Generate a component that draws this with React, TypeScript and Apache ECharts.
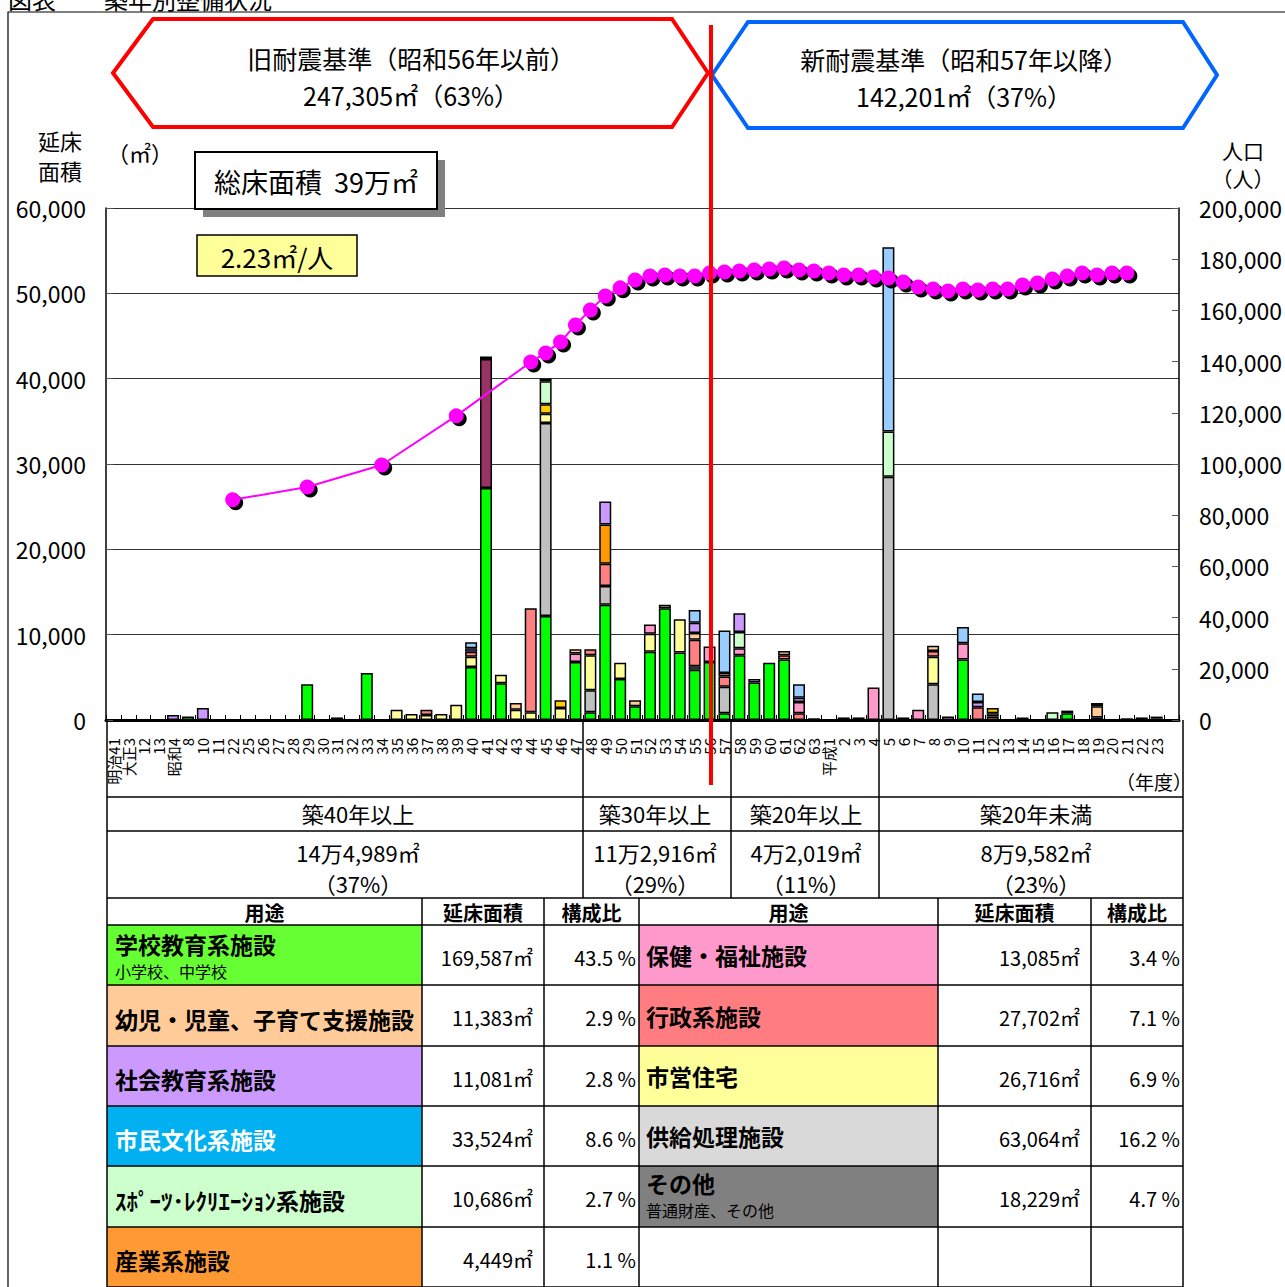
import React, { useEffect, useRef } from 'react';
import * as echarts from 'echarts';

// ---------- data ----------
const categories = [
  '明治41', '大正3', '12', '13', '昭和4', '8', '10', '11', '22', '25',
  '26', '27', '28', '29', '30', '31', '32', '33', '34', '35',
  '36', '37', '38', '39', '40', '41', '42', '43', '44', '45',
  '46', '47', '48', '49', '50', '51', '52', '53', '54', '55',
  '56', '57', '58', '59', '60', '61', '62', '63', '平成1', '2',
  '3', '4', '5', '6', '7', '8', '9', '10', '11', '12',
  '13', '14', '15', '16', '17', '18', '19', '20', '21', '22',
  '23', '',
];

// floor area (m2) per year, by use
const school = [
  0, 0, 0, 0, 0, 400, 0, 0, 0, 0,
  0, 0, 0, 4200, 0, 0, 0, 5500, 0, 0,
  0, 0, 0, 0, 6200, 27200, 4300, 0, 0, 12200,
  0, 6800, 900, 13500, 4800, 1600, 8000, 13100, 7900, 5900,
  6800, 800, 7600, 4400, 6700, 7100, 0, 0, 0, 0,
  0, 0, 0, 0, 0, 0, 0, 7100, 0, 0,
  0, 0, 0, 0, 800, 0, 0, 0, 0, 0,
  0, 0,
];
const supply = [
  0, 0, 0, 0, 0, 0, 0, 0, 0, 0,
  0, 0, 0, 0, 0, 0, 0, 0, 0, 0,
  0, 0, 0, 0, 0, 0, 0, 0, 0, 22600,
  0, 0, 2600, 2200, 0, 0, 0, 0, 0, 400,
  0, 3100, 0, 0, 0, 0, 0, 200, 0, 0,
  0, 0, 28500, 0, 0, 4200, 0, 0, 0, 0,
  0, 0, 0, 0, 0, 0, 0, 0, 0, 0,
  0, 0,
];
const housing = [
  0, 0, 0, 0, 0, 0, 0, 0, 0, 0,
  0, 0, 0, 0, 0, 300, 0, 0, 0, 1200,
  700, 600, 700, 1800, 1200, 0, 1000, 1200, 900, 1100,
  1400, 0, 4100, 0, 1900, 0, 2100, 0, 3900, 0,
  0, 0, 0, 0, 0, 0, 0, 0, 0, 0,
  0, 0, 0, 0, 0, 3200, 0, 0, 0, 0,
  0, 0, 0, 0, 0, 0, 0, 0, 0, 0,
  0, 0,
];
const admin = [
  0, 0, 0, 0, 0, 0, 0, 0, 0, 0,
  0, 0, 0, 0, 0, 0, 0, 0, 0, 0,
  0, 600, 0, 0, 600, 0, 0, 0, 12200, 0,
  0, 0, 700, 2600, 0, 0, 0, 0, 0, 3100,
  0, 1200, 0, 0, 0, 500, 800, 0, 0, 0,
  0, 0, 0, 300, 0, 700, 0, 0, 1500, 400,
  0, 0, 0, 0, 0, 0, 300, 0, 0, 300,
  200, 0,
];
const health = [
  0, 0, 0, 0, 0, 0, 0, 0, 0, 0,
  0, 0, 0, 0, 0, 0, 0, 0, 0, 0,
  0, 0, 0, 0, 0, 0, 0, 0, 0, 0,
  0, 1000, 0, 0, 0, 0, 1100, 0, 0, 0,
  1800, 0, 800, 0, 0, 0, 1300, 0, 0, 0,
  0, 3800, 0, 0, 1200, 0, 0, 1900, 0, 0,
  0, 0, 0, 0, 0, 0, 0, 0, 0, 0,
  0, 0,
];
const childcare = [
  0, 0, 0, 0, 0, 0, 0, 0, 0, 0,
  0, 0, 0, 0, 0, 0, 0, 0, 0, 0,
  0, 0, 0, 0, 0, 0, 0, 800, 0, 0,
  0, 500, 0, 0, 0, 700, 0, 400, 0, 800,
  0, 400, 0, 0, 0, 500, 0, 0, 0, 300,
  0, 0, 0, 0, 0, 600, 0, 0, 0, 400,
  0, 0, 0, 0, 0, 0, 1300, 0, 0, 0,
  0, 0,
];
const industry = [
  0, 0, 0, 0, 0, 0, 0, 0, 0, 0,
  0, 0, 0, 0, 0, 0, 0, 0, 0, 0,
  0, 0, 0, 0, 0, 0, 0, 0, 0, 0,
  0, 0, 0, 4600, 0, 0, 0, 0, 0, 0,
  0, 0, 0, 0, 0, 0, 0, 0, 0, 0,
  0, 0, 0, 0, 0, 0, 0, 0, 0, 0,
  0, 0, 0, 0, 0, 0, 0, 0, 0, 0,
  0, 0,
];
const otherFacility = [
  0, 0, 0, 0, 0, 0, 0, 0, 0, 0,
  0, 0, 0, 0, 0, 0, 0, 0, 0, 0,
  0, 0, 0, 0, 0, 0, 0, 0, 0, 1100,
  900, 0, 0, 0, 0, 0, 0, 0, 0, 0,
  0, 0, 0, 0, 0, 0, 0, 0, 0, 0,
  0, 0, 0, 0, 0, 0, 0, 0, 0, 600,
  0, 0, 0, 0, 0, 0, 0, 0, 0, 0,
  0, 0,
];
const sports = [
  0, 0, 0, 0, 0, 0, 0, 0, 0, 0,
  0, 0, 0, 0, 0, 0, 0, 0, 0, 0,
  0, 0, 0, 0, 0, 0, 0, 0, 0, 2700,
  0, 0, 0, 0, 0, 0, 0, 0, 0, 0,
  0, 0, 1900, 0, 0, 0, 0, 0, 0, 0,
  0, 0, 5300, 0, 0, 0, 0, 0, 0, 0,
  0, 0, 0, 900, 0, 0, 0, 0, 0, 0,
  0, 0,
];
const socialEdu = [
  0, 0, 0, 0, 600, 0, 1400, 0, 0, 0,
  0, 0, 0, 0, 0, 0, 0, 0, 0, 0,
  0, 0, 0, 0, 400, 0, 0, 0, 0, 0,
  0, 0, 0, 2700, 0, 0, 0, 0, 0, 1200,
  0, 0, 2200, 0, 0, 0, 500, 0, 0, 0,
  0, 0, 0, 0, 0, 0, 400, 0, 600, 0,
  0, 0, 0, 0, 0, 0, 0, 0, 200, 0,
  0, 0,
];
const culture = [
  0, 0, 0, 0, 0, 0, 0, 0, 0, 0,
  0, 0, 0, 0, 0, 0, 0, 0, 0, 0,
  0, 0, 0, 0, 700, 0, 0, 0, 0, 0,
  0, 0, 0, 0, 0, 0, 0, 0, 0, 1500,
  0, 5000, 0, 400, 0, 0, 1600, 0, 0, 0,
  0, 0, 21600, 0, 0, 0, 0, 1900, 1000, 0,
  0, 0, 0, 0, 0, 0, 0, 0, 0, 0,
  0, 0,
];
const generalProperty = [
  0, 0, 0, 0, 0, 0, 0, 0, 0, 0,
  0, 0, 0, 0, 0, 0, 0, 0, 0, 0,
  0, 0, 0, 0, 0, 15100, 0, 0, 0, 0,
  0, 0, 0, 0, 0, 0, 0, 0, 0, 0,
  0, 0, 0, 0, 0, 0, 0, 0, 0, 0,
  0, 0, 0, 0, 0, 0, 0, 0, 0, 0,
  0, 0, 0, 0, 0, 0, 0, 0, 0, 0,
  0, 0,
];
const others = [
  0, 0, 0, 0, 0, 0, 0, 0, 0, 0,
  0, 0, 0, 0, 0, 0, 0, 0, 0, 0,
  0, 0, 0, 0, 0, 300, 0, 0, 0, 300,
  0, 0, 0, 0, 0, 0, 0, 0, 0, 0,
  0, 0, 0, 0, 0, 0, 0, 0, 0, 0,
  300, 0, 0, 0, 0, 0, 0, 0, 0, 0,
  0, 300, 0, 0, 300, 0, 400, 0, 0, 0,
  200, 0,
];

// population (persons)
const population = [
  null, null, null, null, null, null, null, null, 86000, null,
  null, null, null, 91000, null, null, null, null, 99600, null,
  null, null, null, 118800, null, null, null, null, 139800, 143400,
  147700, 154300, 160200, 165600, 168800, 171900, 173400, 173800, 173400, 173400,
  174600, 175000, 175400, 175800, 176200, 176600, 175800, 175400, 174600, 173800,
  173800, 173000, 172700, 171100, 169100, 168400, 167600, 168400, 168000, 168400,
  168400, 169900, 170700, 172300, 173400, 174600, 173800, 174600, 174600, null,
  null, null,
];

const groupLabels = ['築40年以上', '築30年以上', '築20年以上', '築20年未満'];
const groupAreas = ['14万4,989㎡', '11万2,916㎡', '4万2,019㎡', '8万9,582㎡'];
const groupShares = ['（37%）', '（29%）', '（11%）', '（23%）'];

const leftUses = ['学校教育系施設', '幼児・児童、子育て支援施設', '社会教育系施設', '市民文化系施設', 'ｽﾎﾟｰﾂ･ﾚｸﾘｴｰｼｮﾝ系施設', '産業系施設'];
const leftSubs = ['小学校、中学校', '', '', '', '', ''];
const leftAreas = ['169,587㎡', '11,383㎡', '11,081㎡', '33,524㎡', '10,686㎡', '4,449㎡'];
const leftShares = ['43.5 %', '2.9 %', '2.8 %', '8.6 %', '2.7 %', '1.1 %'];
const rightUses = ['保健・福祉施設', '行政系施設', '市営住宅', '供給処理施設', 'その他'];
const rightSubs = ['', '', '', '', '普通財産、その他'];
const rightAreas = ['13,085㎡', '27,702㎡', '26,716㎡', '63,064㎡', '18,229㎡'];
const rightShares = ['3.4 %', '7.1 %', '6.9 %', '16.2 %', '4.7 %'];

// ---------- styles ----------
const F = '"Noto Sans CJK JP", "Noto Sans", sans-serif';
const leftColors = ['#66FF33', '#FFCC99', '#CC99FF', '#00B0F0', '#CCFFCC', '#FF9933'];
const leftTextColors = ['#000', '#000', '#000', '#fff', '#000', '#000'];
const rightColors = ['#FF99CC', '#FF7C80', '#FFFF99', '#D9D9D9', '#808080'];

const barDefs = [
  { name: '学校教育系施設', data: school, color: '#00FF00' },
  { name: '供給処理施設', data: supply, color: '#C0C0C0' },
  { name: '市営住宅', data: housing, color: '#FFFF99' },
  { name: '行政系施設', data: admin, color: '#FF8080' },
  { name: '保健・福祉施設', data: health, color: '#FF99CC' },
  { name: '幼児・児童、子育て支援施設', data: childcare, color: '#FFCC99' },
  { name: '産業系施設', data: industry, color: '#FF9900' },
  { name: 'その他施設', data: otherFacility, color: '#FFCC00' },
  { name: 'ｽﾎﾟｰﾂ･ﾚｸﾘｴｰｼｮﾝ系施設', data: sports, color: '#CCFFCC' },
  { name: '社会教育系施設', data: socialEdu, color: '#CC99FF' },
  { name: '市民文化系施設', data: culture, color: '#99CCFF' },
  { name: '普通財産', data: generalProperty, color: '#993366' },
  { name: 'その他', data: others, color: '#222222' },
];

function text(x: number, y: number, t: string, size: number, extra: any = {}) {
  return {
    type: 'text',
    x,
    y,
    z: 60,
    style: {
      text: t,
      fontSize: size,
      fontFamily: F,
      fill: extra.fill || '#000',
      fontWeight: extra.bold ? 'bold' : 'normal',
      align: extra.align || 'center',
      textAlign: extra.align || 'center',
      verticalAlign: extra.valign || 'middle',
      textVerticalAlign: extra.valign || 'middle',
      lineHeight: extra.lineHeight || size,
    },
  };
}
function line(x1: number, y1: number, x2: number, y2: number, color = '#000', w = 1.5, z = 40) {
  return { type: 'line', z, shape: { x1, y1, x2, y2 }, style: { stroke: color, lineWidth: w } };
}
function rect(x: number, y: number, w: number, h: number, fill: string, stroke: string | null, lw = 1.5, z = 30) {
  return { type: 'rect', z, shape: { x, y, width: w, height: h }, style: { fill, stroke: stroke || 'none', lineWidth: lw } };
}

function buildGraphics() {
  const g: any[] = [];
  // frame & title
  g.push(rect(8, 12, 1300, 1300, 'none', '#000', 1.2, 1));
  g.push(text(8, 10, '図表　　築年別整備状況', 24, { align: 'left', valign: 'bottom' }));

  // seismic standard hexagons
  g.push({ type: 'polygon', z: 20, shape: { points: [[113, 73], [153, 19], [672, 19], [708, 73], [672, 127], [153, 127]] }, style: { fill: '#fff', stroke: '#FF0000', lineWidth: 4 } });
  g.push({ type: 'polygon', z: 20, shape: { points: [[712, 75], [748, 22], [1183, 22], [1217, 75], [1183, 128], [748, 128]] }, style: { fill: '#fff', stroke: '#0066FF', lineWidth: 4 } });
  g.push(text(411, 58, '旧耐震基準（昭和56年以前）', 25));
  g.push(text(411, 95, '247,305㎡（63%）', 25));
  g.push(text(964, 59, '新耐震基準（昭和57年以降）', 25));
  g.push(text(964, 96, '142,201㎡（37%）', 25));

  // axis titles
  g.push(text(60, 155, '延床\n面積', 22, { lineHeight: 30 }));
  g.push(text(140, 152, '（㎡）', 22));
  g.push(text(1243, 164, '人口\n（人）', 21, { lineHeight: 28 }));

  // total box
  g.push(rect(203, 160, 242, 57, '#808080', null, 0, 70));
  g.push(rect(195, 152, 242, 57, '#fff', '#000', 2, 71));
  g.push({ ...text(316, 181, '総床面積  39万㎡', 27), z: 72 });

  // per-person box
  g.push(rect(197, 235, 160, 41, '#FFFF99', '#000', 1.5, 70));
  g.push({ ...text(277, 256, '2.23㎡/人', 26), z: 72 });

  // red divider line
  g.push(line(711, 25, 711, 785, '#FF0000', 4, 100));

  // year unit
  g.push(text(1154, 781, '（年度）', 19));

  // group rows under the axis
  const gx = [107, 583, 731, 879, 1183];
  const gcx = [358, 655, 806, 1036];
  gx.forEach((x) => g.push(line(x, 720, x, 898)));
  g.push(line(107, 797, 1183, 797));
  g.push(line(107, 831, 1183, 831));
  groupLabels.forEach((t, i) => {
    g.push(text(gcx[i], 813, t, 22));
    g.push(text(gcx[i], 852, groupAreas[i], 22));
    g.push(text(gcx[i], 883, groupShares[i], 22));
  });

  // legend table
  const cols = [107, 422, 544, 639, 938, 1091, 1183];
  const rows = [898, 925, 985, 1046, 1106, 1166, 1227, 1287];
  for (let r = 0; r < 6; r++) {
    const y0 = rows[r + 1];
    const h = rows[r + 2] - y0;
    g.push(rect(cols[0], y0, cols[1] - cols[0], h, leftColors[r], null, 0, 30));
    if (r < rightUses.length) g.push(rect(cols[3], y0, cols[4] - cols[3], h, rightColors[r], null, 0, 30));
  }
  cols.forEach((x) => g.push(line(x, 898, x, 1287)));
  rows.forEach((y) => g.push(line(107, y, 1183, y)));
  const headers = ['用途', '延床面積', '構成比', '用途', '延床面積', '構成比'];
  headers.forEach((t, i) => g.push(text((cols[i] + cols[i + 1]) / 2, 912, t, 20, { bold: true })));

  for (let r = 0; r < 6; r++) {
    const y0 = rows[r + 1];
    const mid = (y0 + rows[r + 2]) / 2;
    if (leftSubs[r]) {
      g.push(text(115, mid - 11, leftUses[r], 23, { align: 'left', bold: true, fill: leftTextColors[r] }));
      g.push(text(115, mid + 16, leftSubs[r], 16, { align: 'left', fill: leftTextColors[r] }));
    } else {
      g.push(text(115, mid + 3, leftUses[r], 23, { align: 'left', bold: true, fill: leftTextColors[r] }));
    }
    g.push(text(533, mid + 2, leftAreas[r], 20, { align: 'right' }));
    g.push(text(636, mid + 2, leftShares[r], 20, { align: 'right' }));
    if (r < rightUses.length) {
      if (rightSubs[r]) {
        g.push(text(646, mid - 14, rightUses[r], 23, { align: 'left', bold: true }));
        g.push(text(646, mid + 13, rightSubs[r], 16, { align: 'left' }));
      } else {
        g.push(text(646, mid, rightUses[r], 23, { align: 'left', bold: true }));
      }
      g.push(text(1080, mid + 2, rightAreas[r], 20, { align: 'right' }));
      g.push(text(1180, mid + 2, rightShares[r], 20, { align: 'right' }));
    }
  }
  return g;
}

export default function App() {
  const ref = useRef<HTMLDivElement>(null);
  useEffect(() => {
    document.body.style.margin = '0';
    if (!ref.current) return;
    const chart = echarts.init(ref.current, undefined, { renderer: 'svg' });
    const fmt = (v: number) => v.toLocaleString('en-US');
    const option: any = {
      animation: false,
      backgroundColor: '#fff',
      grid: { left: 106, right: 102, top: 208, bottom: 567, containLabel: false },
      xAxis: {
        type: 'category',
        data: categories,
        boundaryGap: true,
        axisLine: { show: true, lineStyle: { color: '#000', width: 3 } },
        axisTick: { show: true, inside: true, length: 5, interval: 0, lineStyle: { color: '#000', width: 1 } },
        axisLabel: { interval: 0, rotate: 90, margin: 18, fontSize: 15, fontFamily: F, color: '#000' },
        splitLine: { show: false },
      },
      yAxis: [
        {
          type: 'value', min: 0, max: 60000, interval: 10000,
          axisLine: { show: true, lineStyle: { color: '#000', width: 1.5 } },
          axisTick: { show: true, inside: true, length: 7, lineStyle: { color: '#555' } },
          axisLabel: { fontSize: 23, fontFamily: F, color: '#000', margin: 20, formatter: fmt },
          splitLine: { show: true, lineStyle: { color: '#333', width: 1 } },
        },
        {
          type: 'value', min: 0, max: 200000, interval: 20000, position: 'right',
          axisLine: { show: true, lineStyle: { color: '#000', width: 1.5 } },
          axisTick: { show: true, inside: true, length: 7, lineStyle: { color: '#555' } },
          axisLabel: { fontSize: 23, fontFamily: F, color: '#000', margin: 20, formatter: fmt },
          splitLine: { show: false },
        },
      ],
      series: [
        ...barDefs.map((d) => ({
          name: d.name,
          type: 'bar',
          stack: 'area',
          barWidth: 12,
          data: d.data.map((v) => (v ? v : '-')),
          itemStyle: { color: d.color, borderColor: '#000', borderWidth: 1.5 },
        })),
        {
          name: '人口（影）',
          type: 'line',
          yAxisIndex: 1,
          data: population,
          connectNulls: true,
          symbol: 'circle',
          symbolSize: 15,
          symbolOffset: [3, 3],
          z: 9,
          silent: true,
          lineStyle: { width: 0, opacity: 0 },
          itemStyle: { color: '#000' },
        },
        {
          name: '人口',
          type: 'line',
          yAxisIndex: 1,
          data: population,
          connectNulls: true,
          symbol: 'circle',
          symbolSize: 15,
          z: 10,
          lineStyle: { color: '#FF00FF', width: 2 },
          itemStyle: { color: '#FF00FF' },
        },
      ],
      graphic: { elements: buildGraphics() },
    };
    chart.setOption(option);
    return () => chart.dispose();
  }, []);
  return <div ref={ref} style={{ width: 1285, height: 1287 }} />;
}
